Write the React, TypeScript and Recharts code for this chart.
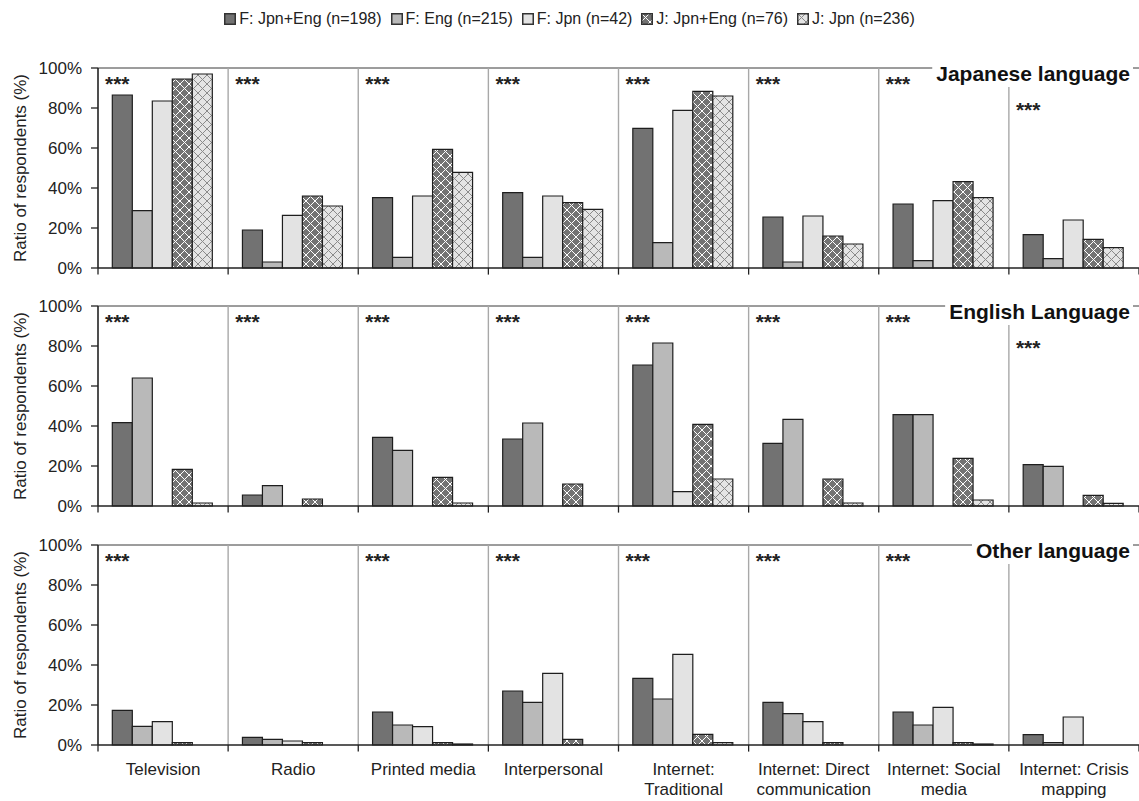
import React, { useLayoutEffect, useRef, useState } from 'react';
import { BarChart, Bar, XAxis, YAxis, ReferenceLine } from 'recharts';

const FONT = '"Liberation Sans", Arial, sans-serif';

const categories = [
  'Television',
  'Radio',
  'Printed media',
  'Interpersonal',
  'Internet:\nTraditional',
  'Internet: Direct\ncommunication',
  'Internet: Social\nmedia',
  'Internet: Crisis\nmapping',
];

const seriesNames = [
  'F: Jpn+Eng (n=198)',
  'F: Eng (n=215)',
  'F: Jpn (n=42)',
  'J: Jpn+Eng (n=76)',
  'J: Jpn (n=236)',
];

// Japanese language
const jpFJpnEng = [86.5, 19, 35.2, 37.7, 69.8, 25.5, 32, 16.7];
const jpFEng = [28.7, 3, 5.3, 5.3, 12.7, 3, 3.7, 4.7];
const jpFJpn = [83.5, 26.3, 36, 36, 78.8, 26, 33.7, 24];
const jpJJpnEng = [94.5, 36, 59.3, 32.7, 88.3, 16, 43.2, 14.3];
const jpJJpn = [97, 31, 47.8, 29.3, 86, 12, 35.2, 10.2];

// English language
const enFJpnEng = [41.7, 5.5, 34.3, 33.5, 70.5, 31.3, 45.7, 20.7];
const enFEng = [64, 10.2, 27.8, 41.5, 81.5, 43.3, 45.7, 19.8];
const enFJpn = [0, 0, 0, 0, 7.2, 0, 0, 0];
const enJJpnEng = [18.3, 3.5, 14.3, 11, 40.8, 13.5, 23.8, 5.3];
const enJJpn = [1.5, 0, 1.5, 0, 13.5, 1.5, 3, 1.3];

// Other language
const otFJpnEng = [17.3, 3.8, 16.5, 27, 33.3, 21.3, 16.5, 5.2];
const otFEng = [9.3, 2.8, 10, 21.3, 23, 15.7, 10, 1.2];
const otFJpn = [11.7, 2, 9.2, 35.8, 45.3, 11.7, 18.8, 14];
const otJJpnEng = [1.2, 1.2, 1.2, 2.8, 5.3, 1.2, 1.2, 0];
const otJJpn = [0, 0, 0.5, 0, 1.2, 0, 0.5, 0];

// significance markers per category
const jpStars = [true, true, true, true, true, true, true, true];
const enStars = [true, true, true, true, true, true, true, true];
const otStars = [true, false, true, true, true, true, true, false];

const yTicks = [0, 20, 40, 60, 80, 100];

const Patterns = ({ p }: { p: string }) => (
  <defs>
    <pattern id={`${p}-jje`} width={9} height={9} patternUnits="userSpaceOnUse">
      <rect width={9} height={9} fill="#737373" />
      <path d="M0,0 L9,9 M9,0 L0,9" stroke="#ffffff" strokeWidth={1} />
    </pattern>
    <pattern id={`${p}-jjp`} width={9} height={9} patternUnits="userSpaceOnUse">
      <rect width={9} height={9} fill="#e4e4e4" />
      <path d="M0,0 L9,9 M9,0 L0,9" stroke="#8a8a8a" strokeWidth={1} />
    </pattern>
  </defs>
);

const fills = (p: string) => ['#727272', '#b9b9b9', '#e3e3e3', `url(#${p}-jje)`, `url(#${p}-jjp)`];

const CatTick = (props: any) => {
  const { x, y, payload } = props;
  const lines = String(payload.value).split('\n');
  return (
    <text x={x} y={y} textAnchor="middle" fontSize={17} fill="#222" fontFamily={FONT}>
      {lines.map((l, i) => (
        <tspan key={i} x={x} dy={i === 0 ? 30 : 20}>
          {l}
        </tspan>
      ))}
    </text>
  );
};

const starLabel = (dy: number) => (props: any) => {
  const vb = props.viewBox;
  return (
    <text x={vb.x + 7} y={vb.y + dy} fontSize={21} fontWeight="bold" fill="#222" fontFamily={FONT}>
      ***
    </text>
  );
};

// panel title with a white box behind it, so the frame line stops around it
const TitleText = ({ x, top, text }: { x: number; top: number; text: string }) => {
  const ref = useRef<SVGTextElement>(null);
  const [w, setW] = useState(0);
  useLayoutEffect(() => {
    if (ref.current) setW(ref.current.getComputedTextLength());
  }, [text]);
  return (
    <g>
      <rect x={x - w - 4} y={top - 4} width={w + 7} height={23} fill="#fff" />
      <text ref={ref} x={x} y={top + 13} textAnchor="end" fontSize={21} fontWeight="bold" fill="#111" fontFamily={FONT}>
        {text}
      </text>
    </g>
  );
};

const titleLabel = (title: string) => (props: any) => {
  const vb = props.viewBox;
  return <TitleText x={vb.x - 9} top={vb.y} text={title} />;
};

const yLabel = (props: any) => {
  const vb = props.viewBox;
  const cy = vb.y + vb.height / 2;
  return (
    <text x={26} y={cy} transform={`rotate(-90, 26, ${cy})`} textAnchor="middle" fontSize={17} fill="#222" fontFamily={FONT}>
      Ratio of respondents (%)
    </text>
  );
};

interface PanelProps {
  pid: string;
  title: string;
  series: number[][];
  stars: boolean[];
  bottom?: boolean;
}

const Panel: React.FC<PanelProps> = ({ pid, title, series, stars, bottom }) => {
  const data = categories.map((name, i) => ({
    name,
    s0: series[0][i],
    s1: series[1][i],
    s2: series[2][i],
    s3: series[3][i],
    s4: series[4][i],
  }));
  const f = fills(pid);
  const last = categories[categories.length - 1];
  return (
    <BarChart
      width={1139}
      height={bottom ? 276 : 230}
      data={data}
      margin={{ top: 20, right: 0, bottom: 0, left: 38 }}
      barCategoryGap="11%"
      barGap={0}
    >
      <Patterns p={pid} />
      <XAxis
        xAxisId="cat"
        dataKey="name"
        interval={0}
        height={bottom ? 56 : 10}
        axisLine={{ stroke: '#222', strokeWidth: 1.6 }}
        tickLine={false}
        tickSize={0}
        tickMargin={0}
        tick={bottom ? <CatTick /> : false}
      />
      <YAxis
        width={60}
        domain={[0, 100]}
        ticks={yTicks}
        tickFormatter={(v: number) => `${v}%`}
        tick={{ fontSize: 17, fill: '#222', fontFamily: FONT }}
        tickSize={7}
        tickMargin={9}
        axisLine={{ stroke: '#222', strokeWidth: 1.6 }}
        tickLine={{ stroke: '#222', strokeWidth: 1.3 }}
        label={yLabel}
      />
      <ReferenceLine xAxisId="cat" y={100} stroke="#3a3a3a" strokeWidth={1} />
      {categories.slice(1, 7).map((c) => (
        <ReferenceLine key={`sep-${c}`} xAxisId="cat" x={c} position="start" stroke="#a8a8a8" strokeWidth={1.4} />
      ))}
      <ReferenceLine
        xAxisId="cat"
        position="start"
        segment={[
          { x: last, y: 0 },
          { x: last, y: 90.5 },
        ]}
        stroke="#a8a8a8"
        strokeWidth={1.4}
      />
      {categories.map((c) => (
        <ReferenceLine
          key={`tk-${c}`}
          xAxisId="cat"
          position="start"
          ifOverflow="visible"
          segment={[
            { x: c, y: 0 },
            { x: c, y: -3.3 },
          ]}
          stroke="#222"
          strokeWidth={1.3}
        />
      ))}
      <ReferenceLine
        xAxisId="cat"
        position="end"
        ifOverflow="visible"
        segment={[
          { x: last, y: 0 },
          { x: last, y: -3.3 },
        ]}
        stroke="#222"
        strokeWidth={1.3}
      />
      {categories.map((c, k) =>
        stars[k] ? (
          <ReferenceLine
            key={`st-${c}`}
            xAxisId="cat"
            x={c}
            position="start"
            stroke="none"
            label={starLabel(k === 7 ? 48.5 : 22.5)}
          />
        ) : null
      )}
      <ReferenceLine xAxisId="cat" x={last} position="end" stroke="none" label={titleLabel(title)} />
      {seriesNames.map((n, i) => (
        <Bar
          key={n}
          xAxisId="cat"
          dataKey={`s${i}`}
          name={n}
          fill={f[i]}
          stroke="#1e1e1e"
          strokeWidth={1.2}
          isAnimationActive={false}
        />
      ))}
    </BarChart>
  );
};

const LegendRow = () => {
  const f = fills('lg');
  return (
    <div
      style={{
        position: 'absolute',
        top: 7,
        left: 0,
        width: 1139,
        display: 'flex',
        justifyContent: 'center',
        gap: 9,
        fontFamily: FONT,
        fontSize: 16,
        color: '#222',
        lineHeight: '24px',
      }}
    >
      {seriesNames.map((n, i) => (
        <div key={n} style={{ display: 'flex', alignItems: 'center', gap: 3 }}>
          <svg width={12} height={12}>
            {i === 0 ? <Patterns p="lg" /> : null}
            <rect x={0.75} y={0.75} width={10.5} height={10.5} fill={f[i]} stroke="#333" strokeWidth={1.5} />
          </svg>
          <span>{n}</span>
        </div>
      ))}
    </div>
  );
};

export default function App() {
  return (
    <div
      style={{
        position: 'absolute',
        left: 0,
        top: 0,
        width: 1139,
        height: 801,
        background: '#fff',
        overflow: 'hidden',
      }}
    >
      <LegendRow />
      <div style={{ position: 'absolute', left: 0, top: 48 }}>
        <Panel
          pid="jp"
          title="Japanese language"
          series={[jpFJpnEng, jpFEng, jpFJpn, jpJJpnEng, jpJJpn]}
          stars={jpStars}
        />
      </div>
      <div style={{ position: 'absolute', left: 0, top: 286 }}>
        <Panel
          pid="en"
          title="English Language"
          series={[enFJpnEng, enFEng, enFJpn, enJJpnEng, enJJpn]}
          stars={enStars}
        />
      </div>
      <div style={{ position: 'absolute', left: 0, top: 525 }}>
        <Panel
          pid="ot"
          title="Other language"
          series={[otFJpnEng, otFEng, otFJpn, otJJpnEng, otJJpn]}
          stars={otStars}
          bottom
        />
      </div>
    </div>
  );
}
